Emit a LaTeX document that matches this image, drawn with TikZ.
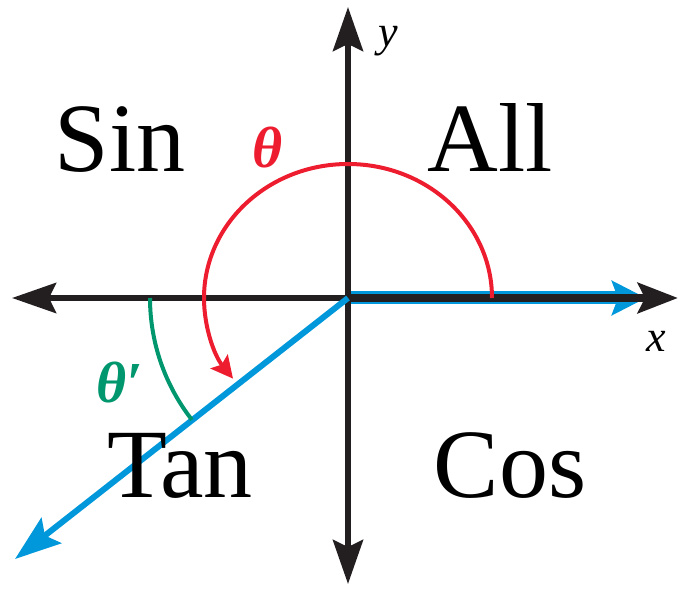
\documentclass[tikz,border=0pt]{standalone}
\usepackage{fontspec}
\setmainfont{Liberation Serif}
\usetikzlibrary{arrows.meta}
\definecolor{axisblack}{RGB}{35,31,32}
\definecolor{rayblue}{RGB}{0,152,218}
\definecolor{arcred}{RGB}{237,28,46}
\definecolor{arcgreen}{RGB}{0,150,110}
\tikzset{
  axis/.style={draw=axisblack, line width=6pt, -{Stealth[length=44pt,width=30pt,inset=7pt]}},
  ray/.style={draw=rayblue, line width=6pt, -{Stealth[length=46pt,width=32pt,inset=8pt]}},
  quad/.style={font=\fontsize{98}{100}\selectfont, anchor=base, inner sep=0pt},
  axlabel/.style={font=\fontsize{44}{46}\selectfont\itshape, inner sep=0pt},
  anglabel/.style={font=\fontsize{58}{60}\selectfont\bfseries\itshape, inner sep=0pt}
}
\begin{document}
\begin{tikzpicture}[x=1pt,y=-1pt]
\useasboundingbox (0,0) rectangle (680,593);
\coordinate (O) at (348,298);
\coordinate (xl) at (12,298);
\coordinate (xr) at (678,298);
\coordinate (yt) at (348,7);
\coordinate (yb) at (348,584);
\coordinate (raytip) at (15,559);
\coordinate (rayx) at (646,298);
% positive x ray (blue under black)
\draw[draw=rayblue, line width=13pt, -{Stealth[length=34pt,width=34pt,inset=6pt]}] (O) -- (rayx);
% axes
\draw[axis] (O) -- (xl);
\draw[axis] (O) -- (yt);
\draw[axis] (O) -- (yb);
\draw[draw=axisblack, line width=8pt, -{Stealth[length=40pt,width=30pt,inset=7pt]}] (O) -- (xr);
% terminal ray
\draw[ray] (O) -- (raytip);
% theta arc
\draw[draw=arcred, line width=4pt, -{Stealth[length=22pt,width=22pt,inset=4pt]}]
  (492,298) arc[start angle=0, end angle=-217, x radius=144, y radius=134];
% reference angle arc
\draw[draw=arcgreen, line width=4pt]
  (150,298) arc[start angle=-180, end angle=-218, radius=198];
% labels
\node[axlabel] (ylab) at (388,41) {y};
\node[axlabel] (xlab) at (656,341) {x};
\node[anglabel, text=arcred] (th) at (268,148) {θ};
\node[anglabel, text=arcgreen] (thp) at (120,383) {θ′};
\node[quad] (sin) at (120,172) {Sin};
\node[quad] (all) at (490,172) {All};
\node[quad] (tan) at (180,497) {Tan};
\node[quad] (cos) at (510,497) {Cos};
\end{tikzpicture}
\end{document}
